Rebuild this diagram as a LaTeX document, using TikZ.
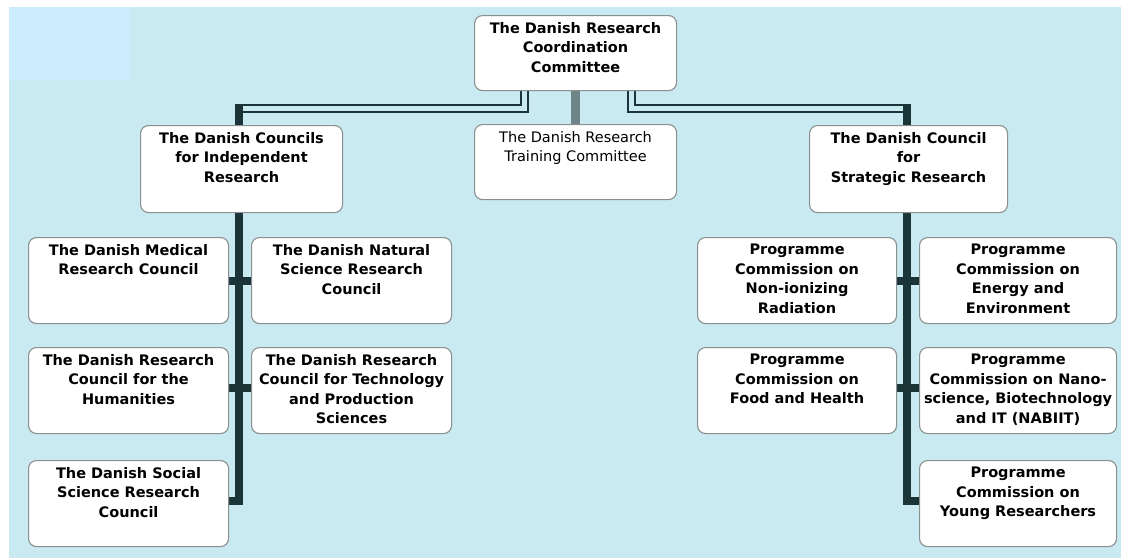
\documentclass[tikz,border=0pt]{standalone}
\usepackage{fontspec}
\setmainfont{DejaVu Sans}
\definecolor{bgblue}{HTML}{CAEAF1}
\definecolor{patch}{HTML}{CCEBFC}
\definecolor{trunk}{HTML}{1B3438}
\definecolor{boxline}{HTML}{8A8F90}
\definecolor{greybar}{HTML}{6E8587}
\tikzset{
  orgbox/.style={draw=boxline, line width=1.1pt, fill=white, rounded corners=8pt,
    anchor=north west, inner sep=0pt},
  boxtext/.style={align=center, anchor=north, inner sep=0pt, font=\bfseries\fontsize{14.5}{19.5}\selectfont},
  dbl/.style={draw=trunk, double=bgblue, line width=1.8pt, double distance=5pt},
  thick trunk/.style={draw=trunk, line width=8pt},
}
\newcommand{\bx}[6]{% name, x1, y1, x2, y2, text
  \node[orgbox, minimum width=#4-#2, minimum height=#5-#3] (#1) at (#2,#3) {};
  \node[boxtext] (#1t) at ([yshift=-7pt]#1.north) {#6};
}
\begin{document}
\begin{tikzpicture}[x=1pt,y=-1pt]
\useasboundingbox (0,0) rectangle (1121,558);
\fill[white] (0,0) rectangle (1121,558);
\fill[bgblue] (9,7) rectangle (1121,558);
\fill[patch] (9,7) rectangle (130,80);

% connectors (drawn first)
\coordinate (tl) at (524.5,90);
\coordinate (tr) at (631.5,90);
\coordinate (jl) at (239,108.5);
\coordinate (jr) at (907,108.5);
\draw[dbl] (tl) |- (jl);
\draw[dbl] (tr) |- (jr);
\draw[greybar, line width=9pt] (575,90) -- (575,124);
\draw[thick trunk] (239,104) -- (239,505);
\draw[thick trunk] (907,104) -- (907,505);
\draw[thick trunk] (228,281) -- (251,281);
\draw[thick trunk] (228,388) -- (251,388);
\draw[thick trunk] (228,501) -- (243,501);
\draw[thick trunk] (896,281) -- (919,281);
\draw[thick trunk] (896,388) -- (919,388);
\draw[thick trunk] (903,501) -- (919,501);

\bx{top}{474}{15}{676}{90}{The Danish Research\\Coordination\\Committee}
\node[orgbox, minimum width=202, minimum height=75] (train) at (474,124) {};
\node[boxtext, font=\mdseries\fontsize{14.5}{19.5}\selectfont]
  (traint) at ([yshift=-7pt]train.north) {The Danish Research\\Training Committee};
\bx{ind}{140}{125}{342}{212}{The Danish Councils\\for Independent\\Research}
\bx{str}{809}{125}{1007}{212}{The Danish Council\\for\\Strategic Research}

\bx{med}{28}{237}{228}{323}{The Danish Medical\\Research Council}
\bx{nat}{251}{237}{451}{323}{The Danish Natural\\Science Research\\Council}
\bx{hum}{28}{347}{228}{433}{The Danish Research\\Council for the\\Humanities}
\bx{tech}{251}{347}{451}{433}{The Danish Research\\Council for Technology\\and Production\\Sciences}
\bx{soc}{28}{460}{228}{546}{The Danish Social\\Science Research\\Council}

\bx{nonion}{697}{237}{896}{323}{Programme\\Commission on\\Non-ionizing\\Radiation}
\bx{energy}{919}{237}{1116}{323}{Programme\\Commission on\\Energy and\\Environment}
\bx{food}{697}{347}{896}{433}{Programme\\Commission on\\Food and Health}
\bx{nano}{919}{347}{1116}{433}{Programme\\Commission on Nano-\\science, Biotechnology\\and IT  (NABIIT)}
\bx{young}{919}{460}{1116}{546}{Programme\\Commission on\\Young Researchers}
\end{tikzpicture}
\end{document}
